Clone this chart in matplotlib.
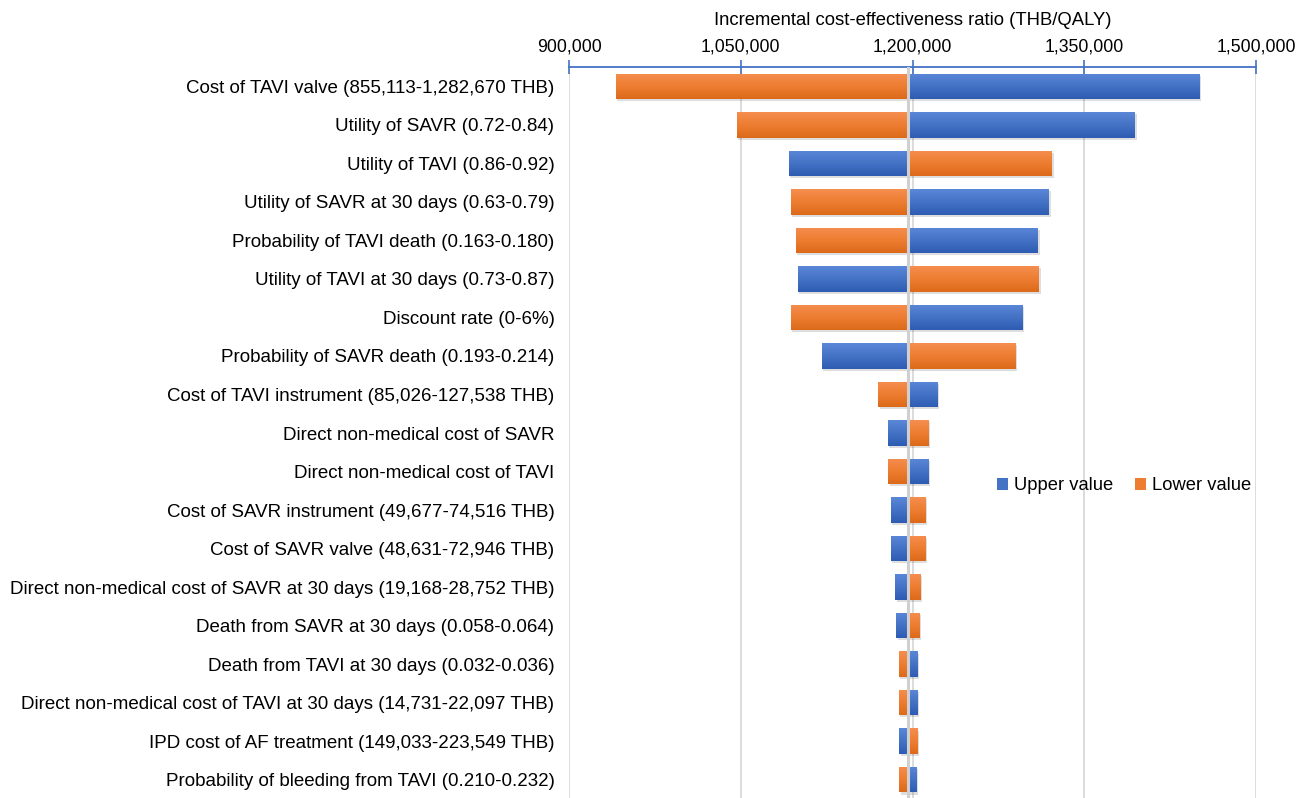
import matplotlib
matplotlib.use("Agg")
import matplotlib.pyplot as plt
import matplotlib.patheffects as pe
import numpy as np
from matplotlib.colors import LinearSegmentedColormap
from matplotlib.patches import Patch

plt.rcParams['font.family'] = ['Liberation Sans', 'DejaVu Sans']

parameters = [
    "Cost of TAVI valve (855,113-1,282,670 THB)",
    "Utility of SAVR (0.72-0.84)",
    "Utility of TAVI (0.86-0.92)",
    "Utility of SAVR at 30 days (0.63-0.79)",
    "Probability of TAVI death (0.163-0.180)",
    "Utility of TAVI at 30 days (0.73-0.87)",
    "Discount rate (0-6%)",
    "Probability of SAVR death (0.193-0.214)",
    "Cost of TAVI instrument (85,026-127,538 THB)",
    "Direct non-medical cost of SAVR",
    "Direct non-medical cost of TAVI",
    "Cost of SAVR instrument (49,677-74,516 THB)",
    "Cost of SAVR valve (48,631-72,946 THB)",
    "Direct non-medical cost of SAVR at 30 days (19,168-28,752 THB)",
    "Death from SAVR at 30 days (0.058-0.064)",
    "Death from TAVI at 30 days (0.032-0.036)",
    "Direct non-medical cost of TAVI at 30 days (14,731-22,097 THB)",
    "IPD cost of AF treatment (149,033-223,549 THB)",
    "Probability of bleeding from TAVI (0.210-0.232)",
]
base_icer = 1196300
upper_value = [1450800, 1394400, 1091800, 1319400, 1309800, 1099700, 1295900, 1120600,
               1221800, 1178200, 1213900, 1180800, 1180800, 1185100, 1186000, 1204300,
               1204300, 1188600, 1203400]
lower_value = [940800, 1046500, 1322000, 1093600, 1098000, 1310700, 1093600, 1289800,
               1170300, 1213900, 1179000, 1211300, 1211300, 1206900, 1206000, 1187800,
               1187800, 1204300, 1188600]
x_ticks = [900000, 1050000, 1200000, 1350000, 1500000]
x_label = "Incremental cost-effectiveness ratio (THB/QALY)"

BLUE = '#4472C4'
ORANGE = '#ED7D31'
blue_cmap = LinearSegmentedColormap.from_list('b', ['#5B87D8', '#4472C4', '#2E5CB3'])
orange_cmap = LinearSegmentedColormap.from_list('o', ['#F58E4F', '#ED7D31', '#DD6A1A'])

fig = plt.figure(figsize=(13.09, 7.98), dpi=100)
ax = fig.add_axes([569/1309, -1/798, (1256-569)/1309, (798-67+1)/798])

n = len(parameters)
y = np.arange(n)
h = 0.66
grad = np.linspace(0, 1, 64).reshape(-1, 1)

shadow = [pe.SimplePatchShadow(offset=(1.2, -1.5), shadow_rgbFace='#000000', alpha=0.13), pe.Normal()]

def draw(vals, color, cmap):
    left = [min(v, base_icer) for v in vals]
    width = [abs(v - base_icer) for v in vals]
    bars = ax.barh(y, width, left=left, height=h, color=color, zorder=2, path_effects=shadow)
    for b in bars:
        x0, yb = b.get_x(), b.get_y()
        w, hh = b.get_width(), b.get_height()
        im = ax.imshow(grad, cmap=cmap, aspect='auto', origin='upper',
                       extent=(x0, x0 + w, yb + hh, yb), zorder=3, interpolation='bilinear')
        im.set_clip_path(b)
    return bars

draw(upper_value, BLUE, blue_cmap)
draw(lower_value, ORANGE, orange_cmap)

ax.axvline(base_icer, color='#D0D0D0', lw=2.2, zorder=4)

ax.set_xlim(x_ticks[0], x_ticks[-1])
ax.set_ylim(n - 0.5, -0.5)
ax.set_xticks(x_ticks)
ax.set_xticklabels([f"{t:,}" for t in x_ticks], fontsize=12.7)
ax.xaxis.tick_top()
ax.xaxis.set_label_position('top')
ax.set_xlabel(x_label, fontsize=13.3, labelpad=10)
ax.tick_params(axis='x', direction='inout', length=10, width=1.2, color=BLUE, pad=3)
ax.set_yticks(y)
ax.set_yticklabels(parameters, fontsize=13.5)
ax.tick_params(axis='y', length=0, pad=10.5)
ax.grid(axis='x', color='#D9D9D9', lw=1.3, zorder=0)
ax.set_axisbelow(True)
for s in ['left', 'right', 'bottom']:
    ax.spines[s].set_visible(False)
ax.spines['top'].set_color(BLUE)
ax.spines['top'].set_linewidth(1.3)

handles = [Patch(facecolor=BLUE, label='Upper value'), Patch(facecolor=ORANGE, label='Lower value')]
fig.legend(handles=handles, loc='center', bbox_to_anchor=(1124/1309, 1 - 486/798), ncol=2,
           frameon=False, fontsize=13.2, handlelength=0.6, handleheight=0.6,
           handletextpad=0.3, columnspacing=1.2)

fig.savefig('out.png', dpi=100)
